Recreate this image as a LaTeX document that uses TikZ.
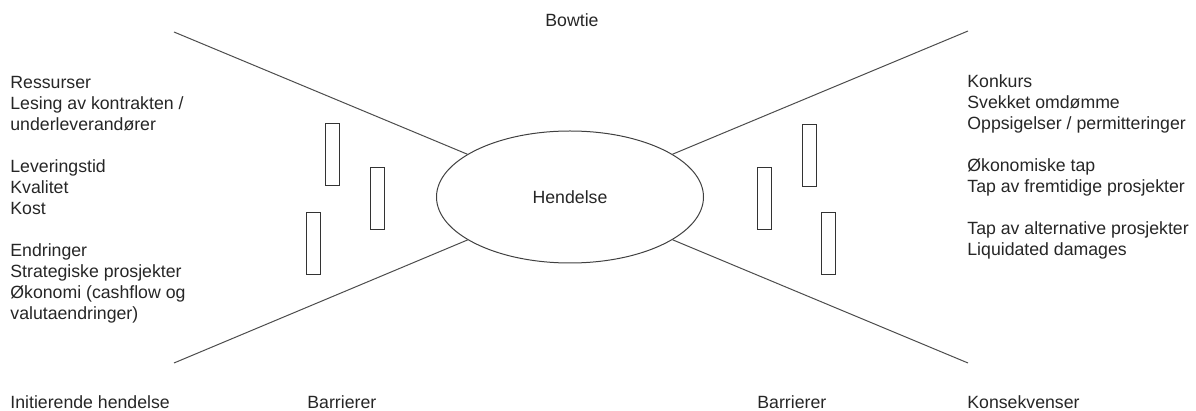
\documentclass[tikz,border=0pt]{standalone}
\usepackage{fontspec}
\setmainfont{Liberation Sans}
\usepackage{tikz}
\usetikzlibrary{arrows.meta,positioning,shapes.geometric}

\tikzset{
  label/.style={inner sep=0pt, text=black!85, font=\fontsize{8.85}{10.5}\selectfont},
  textblock/.style={label, align=left, anchor=north west},
  barrier/.style={draw=black!80, line width=0.5pt, rectangle, inner sep=0pt,
                  minimum width=7pt, minimum height=31pt},
  wing/.style={draw=black!70, line width=0.5pt}
}

\begin{document}
\begin{tikzpicture}[x=0.5pt, y=-0.5pt]
	\useasboundingbox (0,0) rectangle (1196,411);

	\node[label] (title) at (572,20) {Bowtie};

	\node[ellipse, draw=black!75, line width=0.5pt, minimum width=133.5pt, minimum height=66pt,
	      label] (hendelse) at (570,197) {Hendelse};

	% ends of the bow
	\coordinate (tl) at (174,32);
	\coordinate (bl) at (174,363);
	\coordinate (tr) at (968,31);
	\coordinate (br) at (968,363);

	\draw[wing] (tl) -- (hendelse);
	\draw[wing] (bl) -- (hendelse);
	\draw[wing] (tr) -- (hendelse);
	\draw[wing] (br) -- (hendelse);

	% barriers
	\node[barrier] (bl1) at (332,155)   {};
	\node[barrier] (bl2) at (377,198.5) {};
	\node[barrier] (bl3) at (313,243.5) {};
	\node[barrier] (br1) at (764,198.5) {};
	\node[barrier] (br2) at (809.5,155.5) {};
	\node[barrier] (br3) at (828,243.5) {};

	\node[textblock] (causes) at (10,76) {Ressurser\\
		Lesing av kontrakten /\\
		underleverandører\\[10.5pt]
		Leveringstid\\
		Kvalitet\\
		Kost\\[10.5pt]
		Endringer\\
		Strategiske prosjekter\\
		Økonomi (cashflow og\\
		valutaendringer)};

	\node[textblock] (effects) at (967,74) {Konkurs\\
		Svekket omdømme\\
		Oppsigelser / permitteringer\\[10.5pt]
		Økonomiske tap\\
		Tap av fremtidige prosjekter\\[10.5pt]
		Tap av alternative prosjekter\\
		Liquidated damages};

	\node[label, anchor=west] (init)  at (10,402)  {Initierende hendelse};
	\node[label, anchor=west] (barl)  at (307,402) {Barrierer};
	\node[label, anchor=west] (barr)  at (757,402) {Barrierer};
	\node[label, anchor=west] (kons)  at (967,402) {Konsekvenser};
\end{tikzpicture}
\end{document}
